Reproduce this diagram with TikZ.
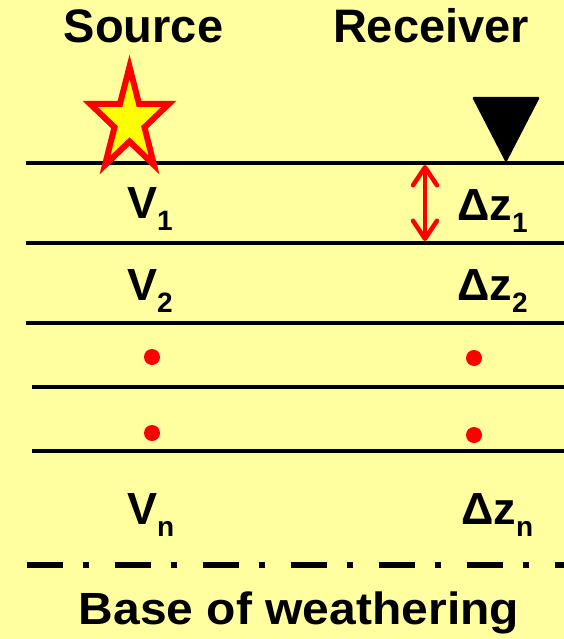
\documentclass[tikz,border=0pt]{standalone}
\usepackage{fontspec}
\setmainfont{Liberation Sans}
\usetikzlibrary{arrows.meta}
\definecolor{bg}{RGB}{255,255,160}
\definecolor{starred}{RGB}{255,0,0}
\definecolor{staryellow}{RGB}{255,255,0}
\newcommand{\lsub}[1]{\raisebox{-12pt}{\fontsize{28}{28}\selectfont #1}}
\begin{document}
\begin{tikzpicture}[x=1pt,y=-1pt,
  title/.style={font=\fontsize{47}{47}\selectfont\bfseries, inner sep=0pt, anchor=base},
  lbl/.style={font=\fontsize{45}{45}\selectfont\bfseries, inner sep=0pt, anchor=base west},
  layer/.style={line width=4pt},
  reddot/.style={circle, fill=starred, inner sep=0pt, minimum size=16pt},
  dz/.style={starred, line width=4.5pt, {Straight Barb[length=18pt,width=24pt,round]}-{Straight Barb[length=18pt,width=24pt,round]}}
]
\fill[bg] (0,0) rectangle (564,639);
\useasboundingbox (0,0) rectangle (564,639);

% titles
\node[title] (src) at (143.5,43) {Source};
\node[title] (rcv) at (431,43) {Receiver};

% layer boundaries
\draw[layer] (26,163) -- (564,163);
\draw[layer] (26,243) -- (564,243);
\draw[layer] (26,323) -- (564,323);
\draw[layer] (32,387) -- (564,387);
\draw[layer] (32,451) -- (564,451);

% base of weathering
\draw[line width=6pt, dash pattern=on 36pt off 20pt on 6pt off 26pt] (27,565) -- (564,565);
\node[title, font=\fontsize{48}{48}\selectfont\bfseries] (base) at (299,624) {\scalebox{1}[0.94]{Base of weathering}};

% star (source)
\draw[starred, fill=staryellow, line width=6pt, line join=miter]
  (129.5,66.7) -- (139,103.8) -- (169,103.8) -- (144.5,127.2) -- (154,165)
  -- (129.5,141.5) -- (105,165) -- (114.5,127.2) -- (90,103.8) -- (120,103.8) -- cycle;

% receiver
\fill[rounded corners=1.5pt] (472,97) -- (540,97) -- (506,163) -- cycle;

% thickness arrow
\coordinate (a1) at (425,165);
\coordinate (a2) at (425,241);
\draw[dz] (a1) -- (a2);

% labels
\node[lbl] (v1) at (127,218) {V\lsub{1}};
\node[lbl] (v2) at (127,300) {V\lsub{2}};
\node[lbl] (vn) at (127,524) {V\lsub{n}};
\node[lbl] (z1) at (457,220) {Δz\lsub{1}};
\node[lbl] (z2) at (457,300) {Δz\lsub{2}};
\node[lbl] (zn) at (461,524) {Δz\lsub{n}};

% dots
\node[reddot] (d1) at (152,357) {};
\node[reddot] (d2) at (474,358) {};
\node[reddot] (d3) at (152,433) {};
\node[reddot] (d4) at (474,435) {};
\end{tikzpicture}
\end{document}
